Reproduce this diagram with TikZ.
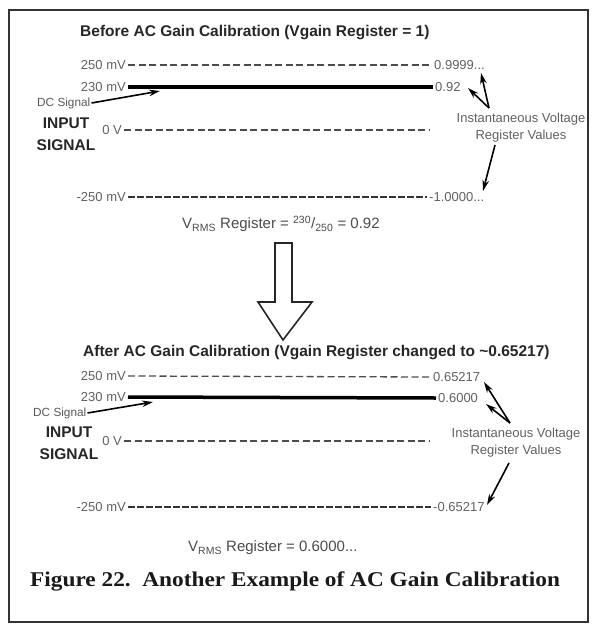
\documentclass[tikz,border=0pt]{standalone}
\usepackage{fontspec}
\setmainfont{Liberation Sans}
\newfontfamily\capfont[FakeStretch=1.11]{Liberation Serif}
\usetikzlibrary{arrows.meta}
\begin{document}
\begin{tikzpicture}[x=1pt,y=-1pt,
  lbl/.style={inner sep=2pt, text=black!62, font=\fontsize{13}{13}\selectfont},
  small/.style={inner sep=1pt, text=black!65, font=\fontsize{11.8}{12}\selectfont},
  ttl/.style={inner sep=0pt, text=black!85, font=\bfseries\fontsize{15.5}{15.5}\selectfont},
  insig/.style={inner sep=0pt, align=center, text=black!85, font=\bfseries\fontsize{15.5}{22}\selectfont},
  ivr/.style={inner sep=0pt, align=center, text=black!62, font=\fontsize{13}{17}\selectfont},
  vrms/.style={inner sep=0pt, text=black!70, font=\fontsize{15}{15}\selectfont},
  dashline/.style={draw=black!70, line width=1.3pt, dash pattern=on 7pt off 3.5pt},
  denseline/.style={draw=black!80, line width=2pt, dash pattern=on 6.5pt off 2.5pt},
  thickline/.style={draw=black, line width=3.5pt},
  ptr/.style={draw=black, line width=1.6pt, -{Stealth[length=11pt,width=6.5pt]}},
  bigarrow/.style={draw=black!85, line width=1.6pt, fill=white, line join=miter}
]
\useasboundingbox (0,0) rectangle (592,625);
\fill[white] (0,0) rectangle (592,625);
\draw[black!80, line width=2.6pt] (9,10) rectangle (588,622);

% ---------------- top section ----------------
\node[ttl, anchor=west] (t1) at (80,33) {Before AC Gain Calibration (Vgain Register = 1)};

\node[lbl, anchor=east] (a250) at (128,65) {250 mV};
\node[lbl, anchor=east] (a230) at (128,87) {230 mV};
\node[lbl, anchor=east] (a0) at (124,130) {0 V};
\node[lbl, anchor=east] (am250) at (128,197) {-250 mV};

\node[lbl, anchor=west] (va250) at (432,65) {0.9999...};
\node[lbl, anchor=west] (va230) at (433,87) {0.92};
\node[lbl, anchor=west] (vam250) at (427,197) {-1.0000...};
\coordinate (ea0) at (430,130);

\draw[dashline] (a250.east) -- (va250.west);
\draw[thickline] (a230.east) -- (va230.west);
\draw[dashline] (a0.east) -- (ea0);
\draw[denseline] (am250.east) -- (vam250.west);

\node[small, anchor=west] (dc1) at (36,103) {DC Signal};
\node[insig] (in1) at (66,134) {INPUT\\SIGNAL};
\coordinate (dctip1) at (160,91);
\draw[ptr] (dc1.east) -- (dctip1);

\node[ivr] (ivr1) at (521,128) {Instantaneous Voltage\\Register Values};
\coordinate (j1) at (489,108);
\coordinate (tipa1) at (481,73);
\coordinate (tipb1) at (468,88);
\coordinate (s1) at (495,145);
\coordinate (tipc1) at (483,191);
\draw[ptr] (j1) -- (tipa1);
\draw[ptr] (j1) -- (tipb1);
\draw[ptr] (s1) -- (tipc1);

\node[vrms, anchor=west] (vr1) at (182,224) {V\textsubscript{RMS} Register = \textsuperscript{230}/\textsubscript{250} = 0.92};

% ---------------- big arrow ----------------
\draw[bigarrow] (275,243) -- (292,243) -- (292,302) -- (312,302) -- (283,340) -- (258,302) -- (275,302) -- cycle;

% ---------------- bottom section ----------------
\node[ttl, anchor=west] (t2) at (83,353) {After AC Gain Calibration (Vgain Register changed to \textasciitilde0.65217)};

\node[lbl, anchor=east] (b250) at (128,376) {250 mV};
\node[lbl, anchor=east] (b230) at (128,397) {230 mV};
\node[lbl, anchor=east] (b0) at (124,441) {0 V};
\node[lbl, anchor=east] (bm250) at (128,507) {-250 mV};

\node[lbl, anchor=west] (vb250) at (431,377) {0.65217};
\node[lbl, anchor=west] (vb230) at (436,398) {0.6000};
\node[lbl, anchor=west] (vbm250) at (431,507) {-0.65217};
\coordinate (eb0) at (430,441);

\draw[dashline] (b250.east) -- (vb250.west);
\draw[thickline] (b230.east) -- (vb230.west);
\draw[dashline] (b0.east) -- (eb0);
\draw[denseline] (bm250.east) -- (vbm250.west);

\node[small, anchor=west] (dc2) at (32,413) {DC Signal};
\node[insig] (in2) at (69,443) {INPUT\\SIGNAL};
\coordinate (dctip2) at (153,402);
\draw[ptr] (dc2.east) -- (dctip2);

\node[ivr] (ivr2) at (516,443) {Instantaneous Voltage\\Register Values};
\coordinate (j2) at (510,423);
\coordinate (tipa2) at (484,382);
\coordinate (tipb2) at (486,404);
\coordinate (s2) at (509,463);
\coordinate (tipc2) at (487,505);
\draw[ptr] (j2) -- (tipa2);
\draw[ptr] (j2) -- (tipb2);
\draw[ptr] (s2) -- (tipc2);

\node[vrms, anchor=west] (vr2) at (188,548) {V\textsubscript{RMS} Register = 0.6000...};

\node[inner sep=0pt, anchor=west, text=black!90, font=\capfont\bfseries\fontsize{21}{21}\selectfont] (cap) at (30,581) {Figure 22.\ \ Another Example of AC Gain Calibration};
\end{tikzpicture}
\end{document}
